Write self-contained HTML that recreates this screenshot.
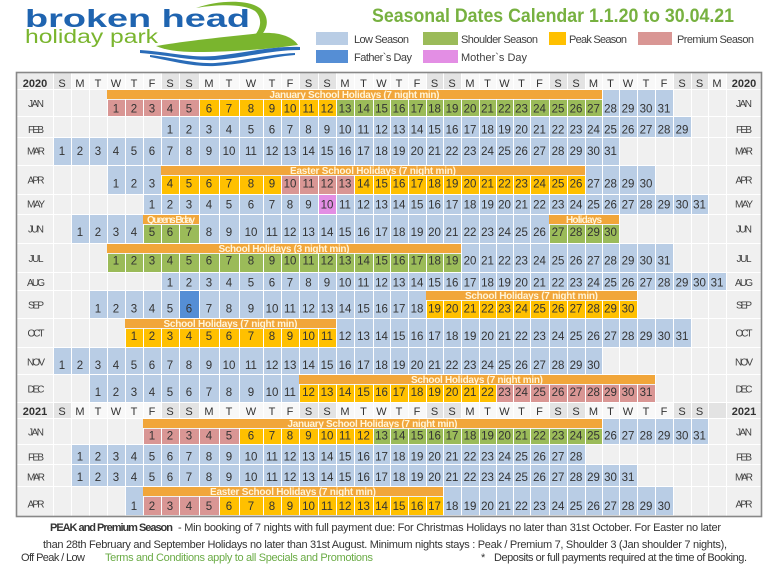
<!DOCTYPE html>
<html><head><meta charset="utf-8"><style>
html,body{margin:0;padding:0;background:#fff;}
svg{display:block;font-family:"Liberation Sans",Arial,sans-serif;}
</style></head><body>
<svg width="768" height="568" viewBox="0 0 768 568" xmlns="http://www.w3.org/2000/svg">
<rect width="768" height="568" fill="#fff"/>
<!-- LOGO -->
<path d="M196,8 C218,0 250,-1 261,9 C270,18 268,30 259,37 L254,36 C262,28 262,17 255,11 C244,4 220,4 196,8 Z" fill="#7ab52e"/>
<path d="M156,46 C178,42 222,37 262,33 C278,32 292,36 298,45 C270,49 232,52 196,52 C178,52 165,50 156,46 Z" fill="#7ab52e"/>
<path d="M140,50 C170,52 190,58 215,56 C245,53 270,46 300,47 L300,50 C270,50 245,58 215,60 C190,61 168,55 140,53 Z" fill="#2a6cb8"/>
<path d="M150,55 C175,58 195,64 215,63 C245,61 270,54 295,53 L295,55 C270,57 245,64 215,66 C193,67 172,61 150,57 Z" fill="#2a6cb8"/>
<text x="25" y="27" font-size="25" font-weight="bold" fill="#1f64b0" textLength="225" lengthAdjust="spacingAndGlyphs">broken head</text>
<text x="25" y="43" font-size="19" fill="#7ab52e" textLength="133" lengthAdjust="spacingAndGlyphs">holiday park</text>
<!-- TITLE -->
<text x="372" y="22" font-size="19" font-weight="bold" fill="#77b140" textLength="362" lengthAdjust="spacingAndGlyphs">Seasonal Dates Calendar 1.1.20 to 30.04.21</text>
<!-- LEGEND -->
<rect x="316" y="32" width="32" height="13" fill="#b9cde5"/>
<rect x="423" y="32" width="35" height="13" fill="#9bbb59"/>
<rect x="549" y="32" width="17" height="13" fill="#ffc000"/>
<rect x="638" y="32" width="34" height="13" fill="#d99694"/>
<rect x="316" y="50" width="32" height="13" fill="#558ed5"/>
<rect x="423" y="50" width="35" height="13" fill="#e38ee4"/>
<g font-size="11" fill="#404040" lengthAdjust="spacingAndGlyphs">
<text x="354" y="43" textLength="55">Low Season</text>
<text x="461" y="43" textLength="77">Shoulder Season</text>
<text x="569" y="43" textLength="58">Peak Season</text>
<text x="677" y="43" textLength="77">Premium Season</text>
<text x="354" y="61" textLength="58">Father`s Day</text>
<text x="461" y="61" textLength="66">Mother`s Day</text>
</g>
<!-- TABLE BG -->
<rect x="17" y="73" width="744" height="443" fill="#f0f0f0"/>
<rect x="17" y="73" width="744" height="16" fill="#f8f8f8"/>
<rect x="17" y="403" width="744" height="15" fill="#f8f8f8"/>
<g fill="#ececec">
<rect x="17" y="73" width="36" height="16"/><rect x="726" y="73" width="35" height="16"/>
<rect x="17" y="403" width="36" height="15"/><rect x="726" y="403" width="35" height="15"/>
</g>
<g fill="#e3e3e3">
<rect x="53" y="73" width="18" height="16"/><rect x="161" y="73" width="18" height="16"/><rect x="179" y="73" width="20" height="16"/><rect x="299" y="73" width="19" height="16"/><rect x="318" y="73" width="18" height="16"/><rect x="426" y="73" width="17" height="16"/><rect x="443" y="73" width="18" height="16"/><rect x="549" y="73" width="18" height="16"/><rect x="567" y="73" width="18" height="16"/><rect x="673" y="73" width="18" height="16"/><rect x="691" y="73" width="17" height="16"/>
<rect x="53" y="403" width="18" height="15"/><rect x="161" y="403" width="18" height="15"/><rect x="179" y="403" width="20" height="15"/><rect x="299" y="403" width="19" height="15"/><rect x="318" y="403" width="18" height="15"/><rect x="426" y="403" width="17" height="15"/><rect x="443" y="403" width="18" height="15"/><rect x="549" y="403" width="18" height="15"/><rect x="567" y="403" width="18" height="15"/><rect x="673" y="403" width="18" height="15"/><rect x="691" y="403" width="17" height="15"/><rect x="708" y="403" width="18" height="15"/>
</g>
<!-- LOW -->
<g fill="#b9cde5">
<rect x="602" y="90" width="71" height="26"/>
<rect x="161" y="117" width="530" height="20"/>
<rect x="53" y="138" width="566" height="27"/>
<rect x="107" y="166" width="54" height="28"/><rect x="585" y="166" width="70" height="28"/>
<rect x="143" y="195" width="565" height="19"/>
<rect x="71" y="215" width="72" height="28"/><rect x="199" y="215" width="350" height="28"/>
<rect x="461" y="244" width="212" height="28"/>
<rect x="161" y="273" width="565" height="17"/>
<rect x="89" y="291" width="337" height="27"/>
<rect x="336" y="319" width="355" height="28"/>
<rect x="53" y="348" width="549" height="26"/>
<rect x="89" y="375" width="210" height="27"/>
<rect x="602" y="419" width="106" height="25"/>
<rect x="71" y="445" width="514" height="19"/>
<rect x="71" y="465" width="566" height="21"/>
<rect x="125" y="487" width="18" height="28"/><rect x="443" y="487" width="230" height="28"/>
</g>
<rect x="318" y="195" width="18" height="19" fill="#e38ee4"/>
<rect x="179" y="291" width="20" height="27" fill="#558ed5"/>
<!-- PREMIUM -->
<g fill="#d99694">
<rect x="107" y="100" width="92" height="16"/>
<rect x="281" y="176" width="73" height="18"/>
<rect x="496" y="385" width="159" height="17"/>
<rect x="143" y="429" width="96" height="15"/>
<rect x="143" y="497" width="76" height="18"/>
</g>
<!-- PEAK -->
<g fill="#ffc000">
<rect x="199" y="100" width="137" height="16"/>
<rect x="161" y="176" width="120" height="18"/><rect x="354" y="176" width="231" height="18"/>
<rect x="426" y="301" width="211" height="17"/>
<rect x="125" y="329" width="211" height="18"/>
<rect x="299" y="385" width="197" height="17"/>
<rect x="239" y="429" width="134" height="15"/>
<rect x="219" y="497" width="224" height="18"/>
</g>
<!-- SHOULDER -->
<g fill="#9bbb59">
<rect x="336" y="100" width="266" height="16"/>
<rect x="143" y="225" width="56" height="18"/><rect x="549" y="225" width="70" height="18"/>
<rect x="107" y="254" width="354" height="18"/>
<rect x="373" y="429" width="229" height="15"/>
</g>
<!-- GRID -->
<path fill="#fff" d="M53 73h1v443h-1zM71 73h1v443h-1zM89 73h1v443h-1zM107 73h1v443h-1zM125 73h1v443h-1zM143 73h1v443h-1zM161 73h1v443h-1zM179 73h1v443h-1zM199 73h1v443h-1zM219 73h1v443h-1zM239 73h1v443h-1zM263 73h1v443h-1zM281 73h1v443h-1zM299 73h1v443h-1zM318 73h1v443h-1zM336 73h1v443h-1zM354 73h1v443h-1zM373 73h1v443h-1zM390 73h1v443h-1zM408 73h1v443h-1zM426 73h1v443h-1zM443 73h1v443h-1zM461 73h1v443h-1zM479 73h1v443h-1zM496 73h1v443h-1zM513 73h1v443h-1zM530 73h1v443h-1zM549 73h1v443h-1zM567 73h1v443h-1zM585 73h1v443h-1zM602 73h1v443h-1zM619 73h1v443h-1zM637 73h1v443h-1zM655 73h1v443h-1zM673 73h1v443h-1zM691 73h1v443h-1zM708 73h1v443h-1zM726 73h1v443h-1z"/>
<path fill="#fff" d="M17 89h744v1h-744zM17 116h744v1h-744zM17 137h744v1h-744zM17 165h744v1h-744zM17 194h744v1h-744zM17 214h744v1h-744zM17 243h744v1h-744zM17 272h744v1h-744zM17 290h744v1h-744zM17 318h744v1h-744zM17 347h744v1h-744zM17 374h744v1h-744zM17 402h744v1h-744zM17 418h744v1h-744zM17 444h744v1h-744zM17 464h744v1h-744zM17 486h744v1h-744z"/>
<!-- BARS -->
<g fill="#f1a63a">
<rect x="107" y="90" width="495" height="9"/>
<rect x="161" y="166" width="424" height="9"/>
<rect x="143" y="215" width="56" height="9"/><rect x="549" y="215" width="70" height="9"/>
<rect x="107" y="244" width="354" height="9"/>
<rect x="426" y="291" width="211" height="9"/>
<rect x="125" y="319" width="211" height="9"/>
<rect x="299" y="375" width="356" height="9"/>
<rect x="143" y="419" width="459" height="9"/>
<rect x="143" y="487" width="300" height="9"/>
</g>
<g font-size="10" font-weight="bold" fill="#fff4d8" text-anchor="middle" lengthAdjust="spacingAndGlyphs">
<text x="354.5" y="98" textLength="170">January School Holidays (7 night min)</text>
<text x="373" y="174" textLength="166">Easter School Holidays (7 night min)</text>
<text x="171" y="223" textLength="48">Queens Bday</text>
<text x="584" y="223" textLength="36">Holidays</text>
<text x="284" y="252" textLength="131">School Holidays (3 night min)</text>
<text x="531.5" y="299" textLength="133">School Holidays (7 night min)</text>
<text x="230.5" y="327" textLength="134">School Holidays (7 night min)</text>
<text x="477" y="383" textLength="132">School Holidays (7 night min)</text>
<text x="372.5" y="427" textLength="170">January School Holidays (7 night min)</text>
<text x="293" y="495" textLength="166">Easter School Holidays (7 night min)</text>
</g>
<!-- TABLE BORDER -->
<rect x="16.5" y="72.5" width="745" height="444" fill="none" stroke="#888" stroke-width="1.6"/>
<!-- HEADERS -->
<g font-size="11" fill="#333" text-anchor="middle">
<text y="87"><tspan x="62">S</tspan><tspan x="80">M</tspan><tspan x="98">T</tspan><tspan x="116">W</tspan><tspan x="134">T</tspan><tspan x="152">F</tspan><tspan x="170">S</tspan><tspan x="189">S</tspan><tspan x="209">M</tspan><tspan x="229">T</tspan><tspan x="251">W</tspan><tspan x="272">T</tspan><tspan x="290">F</tspan><tspan x="308.5">S</tspan><tspan x="327">S</tspan><tspan x="345">M</tspan><tspan x="363.5">T</tspan><tspan x="381.5">W</tspan><tspan x="399">T</tspan><tspan x="417">F</tspan><tspan x="434.5">S</tspan><tspan x="452">S</tspan><tspan x="470">M</tspan><tspan x="487.5">T</tspan><tspan x="504.5">W</tspan><tspan x="521.5">T</tspan><tspan x="539.5">F</tspan><tspan x="558">S</tspan><tspan x="576">S</tspan><tspan x="593.5">M</tspan><tspan x="610.5">T</tspan><tspan x="628">W</tspan><tspan x="646">T</tspan><tspan x="664">F</tspan><tspan x="682">S</tspan><tspan x="699.5">S</tspan><tspan x="717">M</tspan></text>
<text y="415"><tspan x="62">S</tspan><tspan x="80">M</tspan><tspan x="98">T</tspan><tspan x="116">W</tspan><tspan x="134">T</tspan><tspan x="152">F</tspan><tspan x="170">S</tspan><tspan x="189">S</tspan><tspan x="209">M</tspan><tspan x="229">T</tspan><tspan x="251">W</tspan><tspan x="272">T</tspan><tspan x="290">F</tspan><tspan x="308.5">S</tspan><tspan x="327">S</tspan><tspan x="345">M</tspan><tspan x="363.5">T</tspan><tspan x="381.5">W</tspan><tspan x="399">T</tspan><tspan x="417">F</tspan><tspan x="434.5">S</tspan><tspan x="452">S</tspan><tspan x="470">M</tspan><tspan x="487.5">T</tspan><tspan x="504.5">W</tspan><tspan x="521.5">T</tspan><tspan x="539.5">F</tspan><tspan x="558">S</tspan><tspan x="576">S</tspan><tspan x="593.5">M</tspan><tspan x="610.5">T</tspan><tspan x="628">W</tspan><tspan x="646">T</tspan><tspan x="664">F</tspan><tspan x="682">S</tspan><tspan x="699.5">S</tspan></text>
</g>
<g font-size="11" font-weight="bold" fill="#333" text-anchor="middle">
<text x="35" y="87">2020</text><text x="744" y="87">2020</text>
<text x="35" y="415">2021</text><text x="744" y="415">2021</text>
</g>
<!-- MONTH LABELS -->
<g font-size="10" fill="#404040" text-anchor="middle" lengthAdjust="spacingAndGlyphs">
<text x="36" y="107" textLength="16">JAN</text><text x="744" y="107" textLength="16">JAN</text>
<text x="36" y="133" textLength="16">FEB</text><text x="744" y="133" textLength="16">FEB</text>
<text x="36" y="154.5" textLength="18">MAR</text><text x="744" y="154.5" textLength="18">MAR</text>
<text x="36" y="183.5" textLength="17">APR</text><text x="744" y="183.5" textLength="17">APR</text>
<text x="36" y="207.5" textLength="18">MAY</text><text x="744" y="207.5" textLength="18">MAY</text>
<text x="36" y="232.5" textLength="16">JUN</text><text x="744" y="232.5" textLength="16">JUN</text>
<text x="36" y="262" textLength="15">JUL</text><text x="744" y="262" textLength="15">JUL</text>
<text x="36" y="286" textLength="18">AUG</text><text x="744" y="286" textLength="18">AUG</text>
<text x="36" y="308.5" textLength="16">SEP</text><text x="744" y="308.5" textLength="16">SEP</text>
<text x="36" y="336.5" textLength="17">OCT</text><text x="744" y="336.5" textLength="17">OCT</text>
<text x="36" y="365.5" textLength="18">NOV</text><text x="744" y="365.5" textLength="18">NOV</text>
<text x="36" y="392.5" textLength="17">DEC</text><text x="744" y="392.5" textLength="17">DEC</text>
<text x="36" y="435.5" textLength="16">JAN</text><text x="744" y="435.5" textLength="16">JAN</text>
<text x="36" y="460.5" textLength="16">FEB</text><text x="744" y="460.5" textLength="16">FEB</text>
<text x="36" y="480.5" textLength="18">MAR</text><text x="744" y="480.5" textLength="18">MAR</text>
<text x="36" y="507.5" textLength="17">APR</text><text x="744" y="507.5" textLength="17">APR</text>
</g>
<!-- NUMBERS -->
<g font-size="11.5" fill="#333" text-anchor="middle">
<text y="112.5"><tspan x="116">1</tspan><tspan x="134">2</tspan><tspan x="152">3</tspan><tspan x="170">4</tspan><tspan x="189">5</tspan><tspan x="209">6</tspan><tspan x="229">7</tspan><tspan x="251">8</tspan><tspan x="272">9</tspan><tspan x="290">10</tspan><tspan x="308.5">11</tspan><tspan x="327">12</tspan><tspan x="345">13</tspan><tspan x="363.5">14</tspan><tspan x="381.5">15</tspan><tspan x="399">16</tspan><tspan x="417">17</tspan><tspan x="434.5">18</tspan><tspan x="452">19</tspan><tspan x="470">20</tspan><tspan x="487.5">21</tspan><tspan x="504.5">22</tspan><tspan x="521.5">23</tspan><tspan x="539.5">24</tspan><tspan x="558">25</tspan><tspan x="576">26</tspan><tspan x="593.5">27</tspan><tspan x="610.5">28</tspan><tspan x="628">29</tspan><tspan x="646">30</tspan><tspan x="664">31</tspan></text>
<text y="133.5"><tspan x="170">1</tspan><tspan x="189">2</tspan><tspan x="209">3</tspan><tspan x="229">4</tspan><tspan x="251">5</tspan><tspan x="272">6</tspan><tspan x="290">7</tspan><tspan x="308.5">8</tspan><tspan x="327">9</tspan><tspan x="345">10</tspan><tspan x="363.5">11</tspan><tspan x="381.5">12</tspan><tspan x="399">13</tspan><tspan x="417">14</tspan><tspan x="434.5">15</tspan><tspan x="452">16</tspan><tspan x="470">17</tspan><tspan x="487.5">18</tspan><tspan x="504.5">19</tspan><tspan x="521.5">20</tspan><tspan x="539.5">21</tspan><tspan x="558">22</tspan><tspan x="576">23</tspan><tspan x="593.5">24</tspan><tspan x="610.5">25</tspan><tspan x="628">26</tspan><tspan x="646">27</tspan><tspan x="664">28</tspan><tspan x="682">29</tspan></text>
<text y="155"><tspan x="62">1</tspan><tspan x="80">2</tspan><tspan x="98">3</tspan><tspan x="116">4</tspan><tspan x="134">5</tspan><tspan x="152">6</tspan><tspan x="170">7</tspan><tspan x="189">8</tspan><tspan x="209">9</tspan><tspan x="229">10</tspan><tspan x="251">11</tspan><tspan x="272">12</tspan><tspan x="290">13</tspan><tspan x="308.5">14</tspan><tspan x="327">15</tspan><tspan x="345">16</tspan><tspan x="363.5">17</tspan><tspan x="381.5">18</tspan><tspan x="399">19</tspan><tspan x="417">20</tspan><tspan x="434.5">21</tspan><tspan x="452">22</tspan><tspan x="470">23</tspan><tspan x="487.5">24</tspan><tspan x="504.5">25</tspan><tspan x="521.5">26</tspan><tspan x="539.5">27</tspan><tspan x="558">28</tspan><tspan x="576">29</tspan><tspan x="593.5">30</tspan><tspan x="610.5">31</tspan></text>
<text y="187.5"><tspan x="116">1</tspan><tspan x="134">2</tspan><tspan x="152">3</tspan><tspan x="170">4</tspan><tspan x="189">5</tspan><tspan x="209">6</tspan><tspan x="229">7</tspan><tspan x="251">8</tspan><tspan x="272">9</tspan><tspan x="290">10</tspan><tspan x="308.5">11</tspan><tspan x="327">12</tspan><tspan x="345">13</tspan><tspan x="363.5">14</tspan><tspan x="381.5">15</tspan><tspan x="399">16</tspan><tspan x="417">17</tspan><tspan x="434.5">18</tspan><tspan x="452">19</tspan><tspan x="470">20</tspan><tspan x="487.5">21</tspan><tspan x="504.5">22</tspan><tspan x="521.5">23</tspan><tspan x="539.5">24</tspan><tspan x="558">25</tspan><tspan x="576">26</tspan><tspan x="593.5">27</tspan><tspan x="610.5">28</tspan><tspan x="628">29</tspan><tspan x="646">30</tspan></text>
<text y="208.5"><tspan x="152">1</tspan><tspan x="170">2</tspan><tspan x="189">3</tspan><tspan x="209">4</tspan><tspan x="229">5</tspan><tspan x="251">6</tspan><tspan x="272">7</tspan><tspan x="290">8</tspan><tspan x="308.5">9</tspan><tspan x="327">10</tspan><tspan x="345">11</tspan><tspan x="363.5">12</tspan><tspan x="381.5">13</tspan><tspan x="399">14</tspan><tspan x="417">15</tspan><tspan x="434.5">16</tspan><tspan x="452">17</tspan><tspan x="470">18</tspan><tspan x="487.5">19</tspan><tspan x="504.5">20</tspan><tspan x="521.5">21</tspan><tspan x="539.5">22</tspan><tspan x="558">23</tspan><tspan x="576">24</tspan><tspan x="593.5">25</tspan><tspan x="610.5">26</tspan><tspan x="628">27</tspan><tspan x="646">28</tspan><tspan x="664">29</tspan><tspan x="682">30</tspan><tspan x="699.5">31</tspan></text>
<text y="236"><tspan x="80">1</tspan><tspan x="98">2</tspan><tspan x="116">3</tspan><tspan x="134">4</tspan><tspan x="152">5</tspan><tspan x="170">6</tspan><tspan x="189">7</tspan><tspan x="209">8</tspan><tspan x="229">9</tspan><tspan x="251">10</tspan><tspan x="272">11</tspan><tspan x="290">12</tspan><tspan x="308.5">13</tspan><tspan x="327">14</tspan><tspan x="345">15</tspan><tspan x="363.5">16</tspan><tspan x="381.5">17</tspan><tspan x="399">18</tspan><tspan x="417">19</tspan><tspan x="434.5">20</tspan><tspan x="452">21</tspan><tspan x="470">22</tspan><tspan x="487.5">23</tspan><tspan x="504.5">24</tspan><tspan x="521.5">25</tspan><tspan x="539.5">26</tspan><tspan x="558">27</tspan><tspan x="576">28</tspan><tspan x="593.5">29</tspan><tspan x="610.5">30</tspan></text>
<text y="264.5"><tspan x="116">1</tspan><tspan x="134">2</tspan><tspan x="152">3</tspan><tspan x="170">4</tspan><tspan x="189">5</tspan><tspan x="209">6</tspan><tspan x="229">7</tspan><tspan x="251">8</tspan><tspan x="272">9</tspan><tspan x="290">10</tspan><tspan x="308.5">11</tspan><tspan x="327">12</tspan><tspan x="345">13</tspan><tspan x="363.5">14</tspan><tspan x="381.5">15</tspan><tspan x="399">16</tspan><tspan x="417">17</tspan><tspan x="434.5">18</tspan><tspan x="452">19</tspan><tspan x="470">20</tspan><tspan x="487.5">21</tspan><tspan x="504.5">22</tspan><tspan x="521.5">23</tspan><tspan x="539.5">24</tspan><tspan x="558">25</tspan><tspan x="576">26</tspan><tspan x="593.5">27</tspan><tspan x="610.5">28</tspan><tspan x="628">29</tspan><tspan x="646">30</tspan><tspan x="664">31</tspan></text>
<text y="286.5"><tspan x="170">1</tspan><tspan x="189">2</tspan><tspan x="209">3</tspan><tspan x="229">4</tspan><tspan x="251">5</tspan><tspan x="272">6</tspan><tspan x="290">7</tspan><tspan x="308.5">8</tspan><tspan x="327">9</tspan><tspan x="345">10</tspan><tspan x="363.5">11</tspan><tspan x="381.5">12</tspan><tspan x="399">13</tspan><tspan x="417">14</tspan><tspan x="434.5">15</tspan><tspan x="452">16</tspan><tspan x="470">17</tspan><tspan x="487.5">18</tspan><tspan x="504.5">19</tspan><tspan x="521.5">20</tspan><tspan x="539.5">21</tspan><tspan x="558">22</tspan><tspan x="576">23</tspan><tspan x="593.5">24</tspan><tspan x="610.5">25</tspan><tspan x="628">26</tspan><tspan x="646">27</tspan><tspan x="664">28</tspan><tspan x="682">29</tspan><tspan x="699.5">30</tspan><tspan x="717">31</tspan></text>
<text y="312.5"><tspan x="98">1</tspan><tspan x="116">2</tspan><tspan x="134">3</tspan><tspan x="152">4</tspan><tspan x="170">5</tspan><tspan x="189">6</tspan><tspan x="209">7</tspan><tspan x="229">8</tspan><tspan x="251">9</tspan><tspan x="272">10</tspan><tspan x="290">11</tspan><tspan x="308.5">12</tspan><tspan x="327">13</tspan><tspan x="345">14</tspan><tspan x="363.5">15</tspan><tspan x="381.5">16</tspan><tspan x="399">17</tspan><tspan x="417">18</tspan><tspan x="434.5">19</tspan><tspan x="452">20</tspan><tspan x="470">21</tspan><tspan x="487.5">22</tspan><tspan x="504.5">23</tspan><tspan x="521.5">24</tspan><tspan x="539.5">25</tspan><tspan x="558">26</tspan><tspan x="576">27</tspan><tspan x="593.5">28</tspan><tspan x="610.5">29</tspan><tspan x="628">30</tspan></text>
<text y="340"><tspan x="134">1</tspan><tspan x="152">2</tspan><tspan x="170">3</tspan><tspan x="189">4</tspan><tspan x="209">5</tspan><tspan x="229">6</tspan><tspan x="251">7</tspan><tspan x="272">8</tspan><tspan x="290">9</tspan><tspan x="308.5">10</tspan><tspan x="327">11</tspan><tspan x="345">12</tspan><tspan x="363.5">13</tspan><tspan x="381.5">14</tspan><tspan x="399">15</tspan><tspan x="417">16</tspan><tspan x="434.5">17</tspan><tspan x="452">18</tspan><tspan x="470">19</tspan><tspan x="487.5">20</tspan><tspan x="504.5">21</tspan><tspan x="521.5">22</tspan><tspan x="539.5">23</tspan><tspan x="558">24</tspan><tspan x="576">25</tspan><tspan x="593.5">26</tspan><tspan x="610.5">27</tspan><tspan x="628">28</tspan><tspan x="646">29</tspan><tspan x="664">30</tspan><tspan x="682">31</tspan></text>
<text y="369"><tspan x="62">1</tspan><tspan x="80">2</tspan><tspan x="98">3</tspan><tspan x="116">4</tspan><tspan x="134">5</tspan><tspan x="152">6</tspan><tspan x="170">7</tspan><tspan x="189">8</tspan><tspan x="209">9</tspan><tspan x="229">10</tspan><tspan x="251">11</tspan><tspan x="272">12</tspan><tspan x="290">13</tspan><tspan x="308.5">14</tspan><tspan x="327">15</tspan><tspan x="345">16</tspan><tspan x="363.5">17</tspan><tspan x="381.5">18</tspan><tspan x="399">19</tspan><tspan x="417">20</tspan><tspan x="434.5">21</tspan><tspan x="452">22</tspan><tspan x="470">23</tspan><tspan x="487.5">24</tspan><tspan x="504.5">25</tspan><tspan x="521.5">26</tspan><tspan x="539.5">27</tspan><tspan x="558">28</tspan><tspan x="576">29</tspan><tspan x="593.5">30</tspan></text>
<text y="396"><tspan x="98">1</tspan><tspan x="116">2</tspan><tspan x="134">3</tspan><tspan x="152">4</tspan><tspan x="170">5</tspan><tspan x="189">6</tspan><tspan x="209">7</tspan><tspan x="229">8</tspan><tspan x="251">9</tspan><tspan x="272">10</tspan><tspan x="290">11</tspan><tspan x="308.5">12</tspan><tspan x="327">13</tspan><tspan x="345">14</tspan><tspan x="363.5">15</tspan><tspan x="381.5">16</tspan><tspan x="399">17</tspan><tspan x="417">18</tspan><tspan x="434.5">19</tspan><tspan x="452">20</tspan><tspan x="470">21</tspan><tspan x="487.5">22</tspan><tspan x="504.5">23</tspan><tspan x="521.5">24</tspan><tspan x="539.5">25</tspan><tspan x="558">26</tspan><tspan x="576">27</tspan><tspan x="593.5">28</tspan><tspan x="610.5">29</tspan><tspan x="628">30</tspan><tspan x="646">31</tspan></text>
<text y="439.5"><tspan x="152">1</tspan><tspan x="170">2</tspan><tspan x="189">3</tspan><tspan x="209">4</tspan><tspan x="229">5</tspan><tspan x="251">6</tspan><tspan x="272">7</tspan><tspan x="290">8</tspan><tspan x="308.5">9</tspan><tspan x="327">10</tspan><tspan x="345">11</tspan><tspan x="363.5">12</tspan><tspan x="381.5">13</tspan><tspan x="399">14</tspan><tspan x="417">15</tspan><tspan x="434.5">16</tspan><tspan x="452">17</tspan><tspan x="470">18</tspan><tspan x="487.5">19</tspan><tspan x="504.5">20</tspan><tspan x="521.5">21</tspan><tspan x="539.5">22</tspan><tspan x="558">23</tspan><tspan x="576">24</tspan><tspan x="593.5">25</tspan><tspan x="610.5">26</tspan><tspan x="628">27</tspan><tspan x="646">28</tspan><tspan x="664">29</tspan><tspan x="682">30</tspan><tspan x="699.5">31</tspan></text>
<text y="460.5"><tspan x="80">1</tspan><tspan x="98">2</tspan><tspan x="116">3</tspan><tspan x="134">4</tspan><tspan x="152">5</tspan><tspan x="170">6</tspan><tspan x="189">7</tspan><tspan x="209">8</tspan><tspan x="229">9</tspan><tspan x="251">10</tspan><tspan x="272">11</tspan><tspan x="290">12</tspan><tspan x="308.5">13</tspan><tspan x="327">14</tspan><tspan x="345">15</tspan><tspan x="363.5">16</tspan><tspan x="381.5">17</tspan><tspan x="399">18</tspan><tspan x="417">19</tspan><tspan x="434.5">20</tspan><tspan x="452">21</tspan><tspan x="470">22</tspan><tspan x="487.5">23</tspan><tspan x="504.5">24</tspan><tspan x="521.5">25</tspan><tspan x="539.5">26</tspan><tspan x="558">27</tspan><tspan x="576">28</tspan></text>
<text y="481"><tspan x="80">1</tspan><tspan x="98">2</tspan><tspan x="116">3</tspan><tspan x="134">4</tspan><tspan x="152">5</tspan><tspan x="170">6</tspan><tspan x="189">7</tspan><tspan x="209">8</tspan><tspan x="229">9</tspan><tspan x="251">10</tspan><tspan x="272">11</tspan><tspan x="290">12</tspan><tspan x="308.5">13</tspan><tspan x="327">14</tspan><tspan x="345">15</tspan><tspan x="363.5">16</tspan><tspan x="381.5">17</tspan><tspan x="399">18</tspan><tspan x="417">19</tspan><tspan x="434.5">20</tspan><tspan x="452">21</tspan><tspan x="470">22</tspan><tspan x="487.5">23</tspan><tspan x="504.5">24</tspan><tspan x="521.5">25</tspan><tspan x="539.5">26</tspan><tspan x="558">27</tspan><tspan x="576">28</tspan><tspan x="593.5">29</tspan><tspan x="610.5">30</tspan><tspan x="628">31</tspan></text>
<text y="510"><tspan x="134">1</tspan><tspan x="152">2</tspan><tspan x="170">3</tspan><tspan x="189">4</tspan><tspan x="209">5</tspan><tspan x="229">6</tspan><tspan x="251">7</tspan><tspan x="272">8</tspan><tspan x="290">9</tspan><tspan x="308.5">10</tspan><tspan x="327">11</tspan><tspan x="345">12</tspan><tspan x="363.5">13</tspan><tspan x="381.5">14</tspan><tspan x="399">15</tspan><tspan x="417">16</tspan><tspan x="434.5">17</tspan><tspan x="452">18</tspan><tspan x="470">19</tspan><tspan x="487.5">20</tspan><tspan x="504.5">21</tspan><tspan x="521.5">22</tspan><tspan x="539.5">23</tspan><tspan x="558">24</tspan><tspan x="576">25</tspan><tspan x="593.5">26</tspan><tspan x="610.5">27</tspan><tspan x="628">28</tspan><tspan x="646">29</tspan><tspan x="664">30</tspan></text>
</g>
<!-- FOOTER -->
<g font-size="11" fill="#333" lengthAdjust="spacingAndGlyphs">
<text x="50" y="531" font-weight="bold" textLength="123">PEAK and Premium Season</text>
<text x="178" y="531" textLength="543">- Min booking of 7 nights with full payment due: For Christmas Holidays no later than 31st October. For Easter no later</text>
<text x="43" y="548" textLength="684">than 28th February and September Holidays no later than 31st August.  Minimum nights stays : Peak / Premium 7, Shoulder 3 (Jan shoulder 7 nights),</text>
<text x="21" y="561" textLength="64">Off Peak / Low</text>
<text x="105" y="561" fill="#6aab45" textLength="268">Terms and Conditions apply to all Specials and Promotions</text>
<text x="481" y="561">*</text>
<text x="494" y="561" textLength="253">Deposits or full payments required at the time of Booking.</text>
</g>
</svg>
</body></html>
